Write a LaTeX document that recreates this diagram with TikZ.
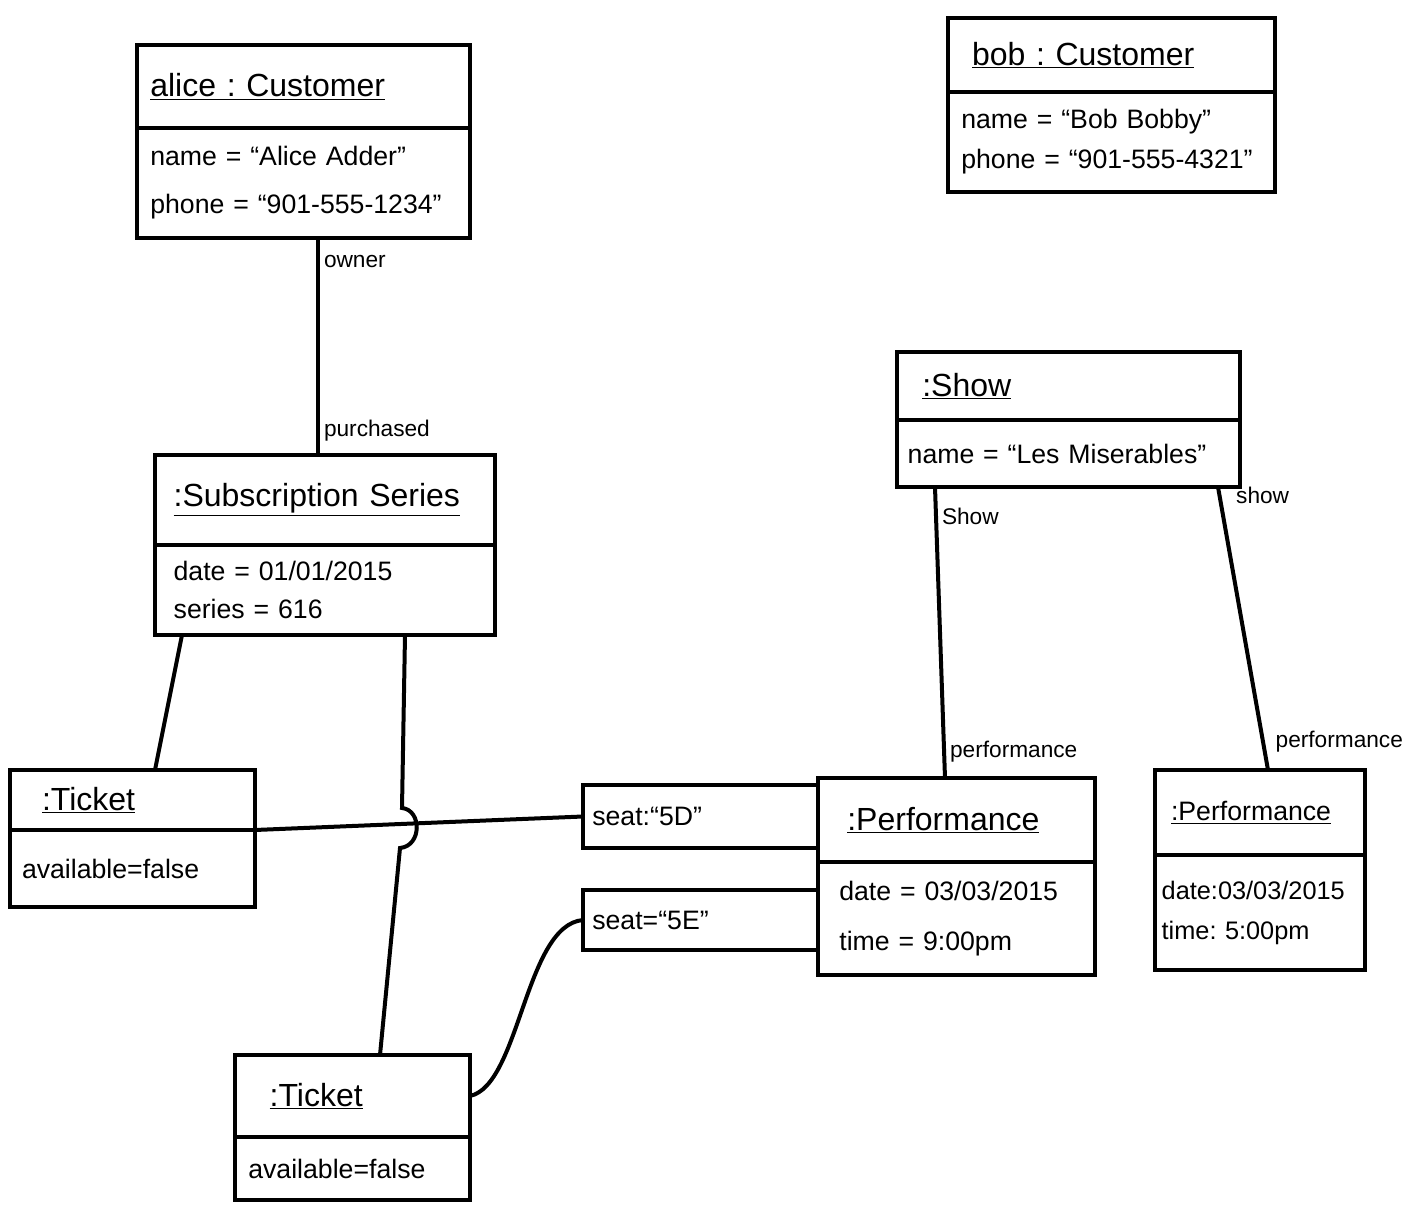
\documentclass[tikz,border=0pt]{standalone}
\usepackage{fontspec}
\setmainfont{Liberation Sans}
\usepackage{tikz}

\tikzset{
  objhead/.style={draw, line width=3pt, outer sep=0pt, anchor=north west, align=left, inner xsep=12pt, inner ysep=0pt, font=\fontsize{24}{28}\selectfont},
  objatt/.style={draw, line width=3pt, outer sep=0pt, anchor=north west, align=left, inner xsep=12pt, inner ysep=0pt, font=\fontsize{20}{33}\selectfont},
  assoc/.style={line width=3pt},
  rolelbl/.style={font=\fontsize{17}{20}\selectfont, inner sep=3pt}
}

\begin{document}
\frenchspacing
\begin{tikzpicture}[x=0.75pt,y=0.75pt,yscale=-1,xscale=1]

\useasboundingbox (0,0) rectangle (1418,1205);

\node[objhead, text width=229.75pt, inner xsep=10pt, minimum height=62.25pt] (alice) at (137,45) {\underline{alice : Customer}};
\node[objatt, text width=229.75pt, inner xsep=10pt, minimum height=82.5pt, font=\fontsize{20}{36}\selectfont] (alice-att) at (alice.south west) {name = ``Alice Adder''\\phone = ``901-555-1234''};

\node[objhead, text width=209.25pt, inner xsep=18pt, minimum height=55.5pt] (bob) at (948,18) {\underline{bob : Customer}};
\node[objatt, text width=225.25pt, inner xsep=10pt, minimum height=75pt, font=\fontsize{20}{30}\selectfont] (bob-att) at (bob.south west) {name = ``Bob Bobby''\\phone = ``901-555-4321''};

\node[objhead, text width=219.25pt, inner xsep=19pt, minimum height=51pt] (show) at (897,352) {\underline{:Show}};
\node[objatt, text width=241.25pt, inner xsep=8pt, minimum height=50.25pt] (show-att) at (show.south west) {name = ``Les Miserables''};

\node[objhead, text width=227pt, inner xsep=14pt, minimum height=67.5pt] (ss) at (155,455) {\underline{:Subscription Series}};
\node[objatt, text width=227pt, inner xsep=14pt, minimum height=67.5pt, font=\fontsize{20}{29}\selectfont] (ss-att) at (ss.south west) {date = 01/01/2015\\series = 616};

\node[objhead, text width=135.75pt, inner xsep=24pt, minimum height=45pt] (tka) at (10,770) {\underline{:Ticket}};
\node[objatt, text width=165.75pt, inner xsep=9pt, minimum height=57.75pt] (tka-att) at (tka.south west) {available=false};

\node[objhead, text width=124.25pt, inner xsep=26pt, minimum height=61.5pt] (tkb) at (235,1055) {\underline{:Ticket}};
\node[objatt, text width=156.25pt, inner xsep=10pt, minimum height=47.25pt] (tkb-att) at (tkb.south west) {available=false};

\node[objatt, text width=162.25pt, inner xsep=7pt, minimum height=47.25pt] (seata) at (583,785) {seat:``5D''};
\node[objatt, text width=162.25pt, inner xsep=7pt, minimum height=45pt] (seatb) at (583,890) {seat=``5E''};

\node[objhead, text width=163.75pt, inner xsep=22pt, minimum height=63pt] (perfa) at (818,778) {\underline{:Performance}};
\node[objatt, text width=175.75pt, inner xsep=16pt, minimum height=84.75pt, font=\fontsize{20}{37}\selectfont] (perfa-att) at (perfa.south west) {date = 03/03/2015\\time = 9:00pm};

\node[objhead, text width=133.5pt, inner xsep=12pt, minimum height=63.75pt, font=\fontsize{20}{24}\selectfont] (perfb) at (1155,770) {\underline{:Performance}};
\node[objatt, text width=147.5pt, inner xsep=5pt, minimum height=86.25pt, font=\fontsize{19}{30}\selectfont] (perfb-att) at (perfb.south west) {date:03/03/2015\\time: 5:00pm};

\draw[assoc] (alice-att.south -| 318,0) -- node[rolelbl, pos=0.11, anchor=west] (l-owner) {owner} node[rolelbl, pos=0.89, anchor=west] (l-purch) {purchased} (ss.north -| 318,0);

\draw[assoc] (ss-att.south -| 182,0) -- (tka.north -| 155,0);
\draw[assoc] (ss-att.south -| 405,0) -- (402,808) .. controls (422,810) and (422,846) .. (400,848) -- (tkb.north -| 380,0);

\draw[assoc] (tka-att.north east) -- (seata.west);
\draw[assoc] (tkb.east) .. controls (520,1085) and (525,925) .. (seatb.west);

\draw[assoc] (show-att.south -| 935,0) -- node[rolelbl, pos=0.1, anchor=west] (l-show1) {Show} node[rolelbl, pos=0.91, anchor=west] (l-perf1) {performance} (perfa.north -| 945,0);
\draw[assoc] (show-att.south -| 1218,0) -- node[rolelbl, pos=0.03, anchor=west, xshift=8] (l-show2) {show} node[rolelbl, pos=0.9, anchor=west, xshift=5] (l-perf2) {performance} (perfb.north -| 1268,0);
\end{tikzpicture}
\end{document}
